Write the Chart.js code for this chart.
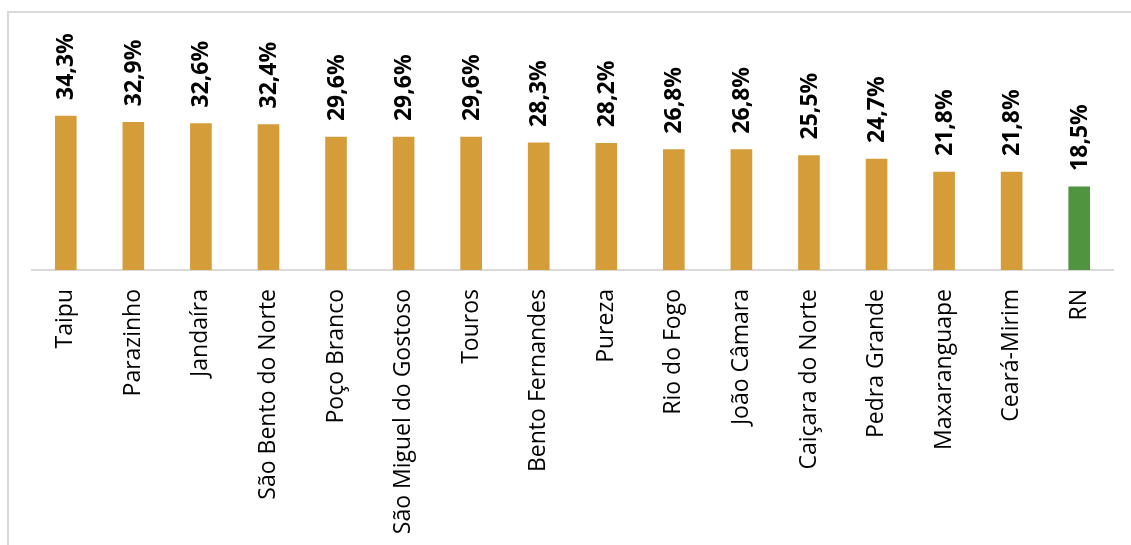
<!DOCTYPE html>
<html>
<head>
<meta charset="utf-8">
<script src="https://cdn.jsdelivr.net/npm/chart.js@4"></script>
<style>
  html, body { margin: 0; padding: 0; background: #fff; overflow: hidden; }
  #frame {
    position: absolute; left: 7px; top: 11px; width: 1200px; height: 600px;
    border: 2px solid #d9d9d9; box-sizing: border-box;
  }
  #wrap { position: absolute; left: 0; top: 0; width: 1131px; height: 545px; }
</style>
</head>
<body>
<div id="frame"></div>
<div id="wrap"><canvas id="grafico"></canvas></div>
<script>
const municipios = [
  'Taipu', 'Parazinho', 'Jandaíra', 'São Bento do Norte', 'Poço Branco',
  'São Miguel do Gostoso', 'Touros', 'Bento Fernandes', 'Pureza', 'Rio do Fogo',
  'João Câmara', 'Caiçara do Norte', 'Pedra Grande', 'Maxaranguape', 'Ceará-Mirim', 'RN'
];
const percentuais = [34.3, 32.9, 32.6, 32.4, 29.6, 29.6, 29.6, 28.3, 28.2, 26.8, 26.8, 25.5, 24.7, 21.8, 21.8, 18.5];
const corMunicipio = '#d59d39';
const corEstado    = '#50943f';

const barColors = municipios.map(m => m === 'RN' ? corEstado : corMunicipio);

// rótulos de valor girados acima das barras
const valueLabels = {
  id: 'valueLabels',
  afterDatasetsDraw(chart) {
    const ctx = chart.ctx;
    const meta = chart.getDatasetMeta(0);
    ctx.save();
    ctx.font = 'bold 23px "Open Sans", sans-serif';
    ctx.fillStyle = '#000';
    ctx.textAlign = 'left';
    ctx.textBaseline = 'middle';
    meta.data.forEach((bar, i) => {
      const txt = percentuais[i].toFixed(1).replace('.', ',') + '%';
      ctx.save();
      ctx.translate(bar.x + 1, bar.y - 16);
      ctx.rotate(-Math.PI / 2);
      ctx.fillText(txt, 0, 0);
      ctx.restore();
    });
    ctx.restore();
  }
};

new Chart(document.getElementById('grafico'), {
  type: 'bar',
  data: {
    labels: municipios,
    datasets: [{
      data: percentuais,
      backgroundColor: barColors,
      barThickness: 21
    }]
  },
  options: {
    responsive: true,
    maintainAspectRatio: false,
    animation: false,
    layout: { padding: { left: 32, right: 18, top: 23, bottom: 0 } },
    plugins: { legend: { display: false }, tooltip: { enabled: false } },
    scales: {
      y: { display: false, min: 0, max: 55 },
      x: {
        afterFit(scale) { scale.height = 275; },
        grid: { display: false, drawTicks: false },
        border: { display: true, color: '#d9d9d9', width: 2 },
        ticks: {
          autoSkip: false, minRotation: 90, maxRotation: 90, padding: 19,
          color: '#000',
          font: { family: '"Open Sans", sans-serif', size: 23 }
        }
      }
    }
  },
  plugins: [valueLabels]
});
</script>
</body>
</html>
